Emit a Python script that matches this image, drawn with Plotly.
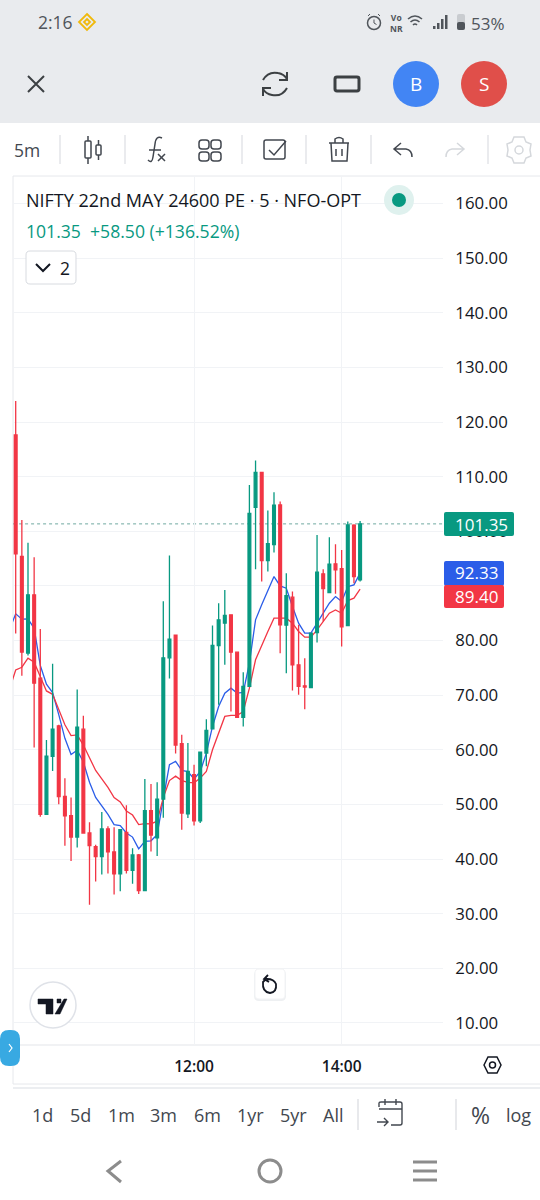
import plotly.graph_objects as go

W, H = 540, 1200
TIMES = [f"{h:02d}:{m:02d}" for h in range(9, 15) for m in range(0, 60, 5)][6:]  # from 09:30
TIMES = [t for t in TIMES if t <= "14:15"]
opens = [117.64,95.42,77.71,88.36,73.12,48.17,58.82,64.39,51.45,47.92,44.02,63.77,44.77,42.29,40.43,45.51,41.30,37.27,44.89,37.95,40.74,34.24,48.85,43.90,50.96,76.84,80.99,61.10,48.29,55.43,47.01,59.39,63.84,79.09,83.17,84.70,77.87,65.92,71.59,104.39,110.79,94.64,97.56,104.82,82.81,87.93,75.55,71.71,71.40,81.47,92.20,88.78,94.03,93.17,82.75,101.10,91.10]
highs = [123.84,102.04,97.89,95.23,82.10,61.79,75.73,64.58,54.80,51.27,71.02,66.25,46.75,42.60,48.60,46.00,45.82,45.50,49.84,41.98,40.93,54.67,53.74,54.05,87.18,95.54,80.99,62.75,61.22,57.26,59.58,65.61,82.75,86.83,89.27,84.80,77.90,74.21,108.48,112.93,110.90,103.78,107.14,105.43,92.32,88.97,82.87,76.77,81.40,99.33,93.05,98.90,97.62,96.59,101.77,101.30,101.89]
lows = [81.30,73.56,77.27,60.43,47.74,48.17,56.10,50.03,42.41,39.63,42.10,44.64,31.64,35.91,37.15,37.34,33.50,34.12,37.34,35.48,33.62,34.10,41.36,40.55,47.55,73.06,59.32,45.37,47.50,46.16,46.59,57.00,63.80,68.23,75.55,67.01,65.80,64.27,71.50,93.05,90.79,92.62,96.10,77.68,74.03,70.86,70.06,67.44,71.30,79.64,83.48,88.65,88.54,78.90,82.70,90.49,90.79]
closes = [95.85,77.89,88.36,72.20,48.17,58.82,63.77,51.45,47.92,44.02,64.15,44.77,42.47,40.43,45.51,41.30,37.27,45.38,37.95,40.74,34.24,48.85,44.39,50.96,76.84,80.25,60.86,48.42,56.04,47.01,59.58,63.54,79.09,83.78,84.58,77.87,65.92,71.59,103.29,110.79,94.64,97.75,104.76,82.87,88.23,75.55,71.59,71.47,81.34,92.50,89.51,93.97,92.93,82.50,101.16,91.71,101.35]
blue_ma = [81.98,84.89,83.90,83.96,82.23,75.42,72.01,70.46,66.44,62.10,59.13,59.94,57.77,54.05,51.27,49.72,48.17,46.31,46.13,44.77,44.02,41.86,43.22,43.34,44.46,50.96,57.27,57.89,56.22,56.00,54.67,56.00,59.39,64.27,67.93,70.37,71.28,70.37,70.49,75.86,83.78,86.53,88.97,91.71,90.00,89.57,86.22,83.17,81.34,81.34,83.17,85.00,86.83,88.05,87.14,89.88,90.18,92.33]
red_ma = [71.08,74.61,75.11,76.78,76.03,73.25,70.77,70.15,67.37,64.58,62.60,62.72,60.86,58.39,56.22,54.67,53.12,51.27,50.46,48.79,48.05,46.31,46.50,46.44,46.93,51.27,54.36,55.17,54.36,54.05,53.93,54.82,56.04,60.00,63.05,66.10,66.28,66.28,67.01,71.28,76.47,78.90,81.65,84.09,84.09,84.09,83.17,81.65,80.61,80.61,81.95,83.48,85.00,85.61,85.00,87.32,87.75,89.40]
price_ticks = list(range(10, 170, 10))
time_ticks = ["12:00", "14:00"]
last_price = 101.35

GREEN, RED, BLUE = "#089981", "#f23645", "#2b5de8"
INK, UI = "#131722", "#42474f"
GRID = "#f1f3f6"
FONT = "Open Sans"

def px(x): return x / W
def py(y): return 1 - y / H

shapes, annos = [], []

def path(d, color="#3c4043", width=2, fill=None, layer="above"):
    out, toks = [], d.split()
    isx = True
    for t in toks:
        if t.isalpha():
            out.append(t); isx = True
        else:
            v = float(t)
            out.append(f"{px(v):.5f}" if isx else f"{py(v):.5f}")
            isx = not isx
    s = " ".join(out)
    shapes.append(dict(type="path", xref="paper", yref="paper", path=s, layer=layer,
                       line=dict(color=color, width=width), fillcolor=fill or "rgba(0,0,0,0)"))

def rrect(x0, y0, x1, y1, r, color="rgba(0,0,0,0)", width=0, fill=None, layer="above"):
    d = (f"M {x0+r} {y0} L {x1-r} {y0} Q {x1} {y0} {x1} {y0+r} L {x1} {y1-r} Q {x1} {y1} {x1-r} {y1} "
         f"L {x0+r} {y1} Q {x0} {y1} {x0} {y1-r} L {x0} {y0+r} Q {x0} {y0} {x0+r} {y0} Z")
    path(d, color, width, fill, layer)

def rect(x0, y0, x1, y1, fill, layer="above"):
    shapes.append(dict(type="rect", xref="paper", yref="paper", x0=px(x0), x1=px(x1), y0=py(y1), y1=py(y0),
                       fillcolor=fill, line=dict(width=0), layer=layer))

def line(x0, y0, x1, y1, color, width=1, layer="above"):
    shapes.append(dict(type="line", xref="paper", yref="paper", x0=px(x0), x1=px(x1), y0=py(y0), y1=py(y1),
                       line=dict(color=color, width=width), layer=layer))

def circle(cx, cy, r, fill="rgba(0,0,0,0)", color="rgba(0,0,0,0)", width=0, layer="above"):
    shapes.append(dict(type="circle", xref="paper", yref="paper", x0=px(cx-r), x1=px(cx+r), y0=py(cy+r), y1=py(cy-r),
                       fillcolor=fill, line=dict(color=color, width=width), layer=layer))

def text(x, y, s, size=17, color=UI, anchor="center", weight=None):
    annos.append(dict(xref="paper", yref="paper", x=px(x), y=py(y), text=s, showarrow=False,
                      xanchor=anchor, yanchor="middle", borderpad=0, borderwidth=0,
                      font=dict(family=FONT, size=size, color=color, weight=weight or 400)))

# --- backgrounds and frame
rect(0, 0, 540, 123, "#e9ebee", "below")
line(13, 176, 540, 176, "#e6e8ec", 1, "below")
line(13, 176, 13, 1084, "#e6e8ec", 1, "below")
line(13, 1045, 540, 1045, "#e3e5e9", 1, "below")
line(13, 1084, 540, 1084, "#e6e8ec", 1, "below")
line(13, 1088, 540, 1088, "#eceef1", 2, "below")

# --- status bar
text(38, 22, "2:16", 17.5, "#50555b", "left")
path("M 87 14 L 95 22 L 87 30 L 79 22 Z M 87 19 L 90 22 L 87 25 L 84 22 Z", "#f0b90b", 1.8)
circle(374, 23, 6.5, color="#50555b", width=1.5)
path("M 374 19.5 L 374 23 L 376.5 24.5 M 368 16 L 370 14 M 380 16 L 378 14", "#50555b", 1)
text(396, 22.5, "Vo<br>NR", 8.5, "#50555b", weight=700)
path("M 408 19 Q 415 13 422 19 M 410.5 22 Q 415 18 419.5 22 M 413 25 Q 415 23 417 25", "#50555b", 1.6)
for i, h in enumerate((3, 6, 10, 14)):
    rect(433 + i*4, 29 - h, 435.5 + i*4, 29, "#50555b")
rrect(457, 14, 465, 30, 2, fill="#c9ccd0")
rrect(457, 22, 465, 30, 2, fill="#50555b")
text(471, 23, "53%", 17, "#50555b", "left")

# --- action bar
path("M 28 76 L 44 92 M 44 76 L 28 92", "#3c4043", 2)
path("M 263 80 Q 268 71 278 73 Q 284 74 287 79 M 287 72 L 287 80 L 279 80 M 287 88 Q 282 97 272 95 Q 266 94 263 89 M 263 96 L 263 88 L 271 88", "#3c4043", 2)
rrect(335, 77, 359, 91, 2, color="#3c4043", width=3)
circle(416, 84, 23, fill="#4285f4")
text(416, 84, "B", 19, "#ffffff")
circle(484, 84, 23, fill="#e04f4a")
text(484, 84, "S", 19, "#ffffff")

# --- toolbar
text(14, 150, "5m", 17.5, UI, "left")
for x in (60, 125, 242, 306, 371, 488):
    line(x, 135, x, 164, "#e3e5e9", 1.5)
path("M 88 136 L 88 164 M 98.5 140 L 98.5 160", UI, 1.5)
rrect(85, 141, 91, 158, 1, color=UI, width=1.5, fill="#ffffff")
rrect(96, 145, 101, 155, 1, color=UI, width=1.5, fill="#ffffff")
path("M 162 138 Q 156 135 155 144 L 153 157 Q 152 164 148 160 M 149 150 L 161 150", UI, 1.5)
path("M 158 154 L 165 161 M 165 154 L 158 161", UI, 1.5)
for x, y in ((199, 140), (211, 140), (199, 152), (211, 152)):
    rrect(x, y, x + 10, y + 9, 3, color=UI, width=1.5)
rrect(264, 140, 285, 159, 2, color=UI, width=1.5)
path("M 269 150 L 274 155 L 286 141", UI, 1.5)
path("M 329 143 L 349 143 M 335 143 L 335 139 Q 339 136 343 139 L 343 143 M 331 143 L 332 161 L 347 161 L 348 143 M 336 149 L 336 156 M 342 149 L 342 156", UI, 1.5)
path("M 401 143 L 394 149 L 401 155 M 394 149 L 406 149 Q 412 150 412 157", UI, 1.5)
path("M 457 143 L 464 149 L 457 155 M 464 149 L 452 149 Q 446 150 446 157", "#d5d8dc", 1.5)
path("M 514 137 L 524 137 L 526 142 L 531 144 L 530 150 L 531 156 L 526 158 L 524 163 L 514 163 L 512 158 L 507 156 L 508 150 L 507 144 L 512 142 Z", "#d5d8dc", 1.5)
circle(519, 150, 4, color="#d5d8dc", width=1.5)

# --- legend
text(26, 200, "NIFTY 22nd MAY 24600 PE · 5 · NFO-OPT", 18, INK, "left")
text(26, 231, "101.35 &nbsp;+58.50 (+136.52%)", 17.6, GREEN, "left")
circle(399, 200, 15, fill="#dff1ee")
circle(399, 200, 7, fill=GREEN)
rrect(26, 251, 76, 284, 4, color="#d8dbe0", width=1, fill="#ffffff")
path("M 36 264 L 43 271 L 50 264", INK, 2)
text(65, 268, "2", 17.5, INK)

# --- price labels
rrect(444, 512, 514, 536, 2, fill=GREEN)
text(481.5, 524, f"{last_price:.2f}", 17, "#ffffff")
rect(444, 575, 504, 595, "#ffffff")
rrect(444, 561, 504, 586, 2, fill=BLUE)
rrect(444, 585, 504, 608, 2, fill=RED)
text(476.5, 572.5, f"{blue_ma[-1]:.2f}", 17, "#ffffff")
text(476.5, 596.5, f"{red_ma[-1]:.2f}", 17, "#ffffff")

# --- floating chart controls
rrect(254, 970, 286, 1001, 5, fill="#eef0f2", layer="above")
rrect(255, 969, 285, 999, 4, fill="#ffffff", color="#f2f3f5", width=1)
path("M 267 978 L 263 982 Q 262 992 270 993 Q 277 992 276 984 Q 274 979 267 979 M 268 975 L 264 979 L 269 982", INK, 1.8)
circle(53, 1005, 23, fill="#ffffff", color="#dfe2e8", width=1.5)
path("M 38 999 L 53 999 L 53 1014 L 46 1014 L 46 1004 L 38 1004 Z M 64 999 L 67 999 L 60 1014 L 55 1014 Z M 57 999 L 61 999 L 61 1003 L 57 1003 Z", "#131722", 0.5, "#131722")
rrect(0, 1030, 20, 1066, 9, fill="#38a9e2")
path("M 9 1044 L 12 1048 L 9 1052", "#ffffff", 1.2)
path("M 484 1065 L 488 1057 L 497 1057 L 501 1065 L 497 1073 L 488 1073 Z", INK, 1.5)
circle(492.5, 1065, 3, color=INK, width=1.5)

# --- range row
for x, s in ((42, "1d"), (80, "5d"), (121, "1m"), (163, "3m"), (207, "6m"), (250, "1yr"), (293, "5yr"), (333, "All"), (480, "%"), (518, "log")):
    text(x, 1115, s, 18 if s != "%" else 23, UI)
for x in (358, 456):
    line(x, 1099, x, 1130, "#e0e2e6", 1.5)
path("M 379 1107 L 379 1103 Q 379 1102 381 1102 L 400 1102 Q 402 1102 402 1104 L 402 1123 Q 402 1125 400 1125 L 391 1125 M 379 1109 L 402 1109 M 385 1099 L 385 1105 M 396 1099 L 396 1105 M 377 1122 L 388 1122 M 384 1118 L 388 1122 L 384 1126", UI, 1.4)

# --- nav bar
path("M 121 1161 L 108 1171 L 121 1182", "#8c8c8c", 3)
circle(270, 1171, 11, color="#8c8c8c", width=3)
for y in (1162, 1171, 1180):
    line(413, y, 437, y, "#8c8c8c", 3)

# --- last price line
shapes.append(dict(type="line", xref="x", yref="y", x0=-0.4, x1=70.5, y0=last_price, y1=last_price, layer="below",
                   line=dict(color="#6fa8a0", width=1, dash="dot")))

x_range = [(13 - 15.7) / 6.15 + 1, (443 - 15.7) / 6.15 + 1]
y_range = [5.96, 165.03]
domx = [px(13), px(443)]
domy = [py(1045), py(176)]

fig = go.Figure()
fig.add_trace(go.Scatter(x=TIMES, y=blue_ma, mode="lines", line=dict(color=BLUE, width=1.3), showlegend=False,
                         xaxis="x", yaxis="y"))
fig.add_trace(go.Scatter(x=TIMES, y=red_ma, mode="lines", line=dict(color=RED, width=1.3), showlegend=False,
                         xaxis="x", yaxis="y"))
fig.add_trace(go.Candlestick(x=TIMES[1:], open=opens, high=highs, low=lows, close=closes, xaxis="x2", yaxis="y2",
                             increasing=dict(line=dict(color=GREEN, width=1.3), fillcolor=GREEN),
                             decreasing=dict(line=dict(color=RED, width=1.3), fillcolor=RED),
                             whiskerwidth=0, showlegend=False))
axis_cat = dict(type="category", categoryorder="array", categoryarray=TIMES, range=x_range)
fig.update_layout(
    width=W, height=H, margin=dict(l=0, r=0, t=0, b=0), autosize=False,
    paper_bgcolor="#ffffff", plot_bgcolor="rgba(0,0,0,0)", showlegend=False,
    boxgap=0.36, font=dict(family=FONT),
    shapes=shapes, annotations=annos,
    xaxis=dict(domain=domx, **axis_cat, tickmode="array", tickvals=time_ticks, ticktext=time_ticks, showgrid=True,
               gridcolor=GRID, gridwidth=1, zeroline=False, showline=False, ticks="outside", ticklen=7,
               tickcolor="rgba(0,0,0,0)", tickfont=dict(family=FONT, size=15.5, color=INK, weight=600),
               rangeslider=dict(visible=False), anchor="y", fixedrange=True),
    yaxis=dict(domain=domy, range=y_range, side="right", tickmode="array", tickvals=price_ticks, tickformat=".2f",
               showgrid=True, gridcolor=GRID, gridwidth=1, zeroline=False, showline=False, ticks="outside", ticklen=8,
               tickcolor="rgba(0,0,0,0)", tickfont=dict(family=FONT, size=16.8, color=INK), anchor="x", fixedrange=True),
    xaxis2=dict(**axis_cat, overlaying="x", anchor="y2", visible=False, rangeslider=dict(visible=False), fixedrange=True),
    yaxis2=dict(range=y_range, overlaying="y", anchor="x2", side="right", visible=False, fixedrange=True),
)
fig.write_html("out.html", config=dict(displayModeBar=False),
               post_script="document.body.style.margin='0';document.body.style.overflow='hidden';")
